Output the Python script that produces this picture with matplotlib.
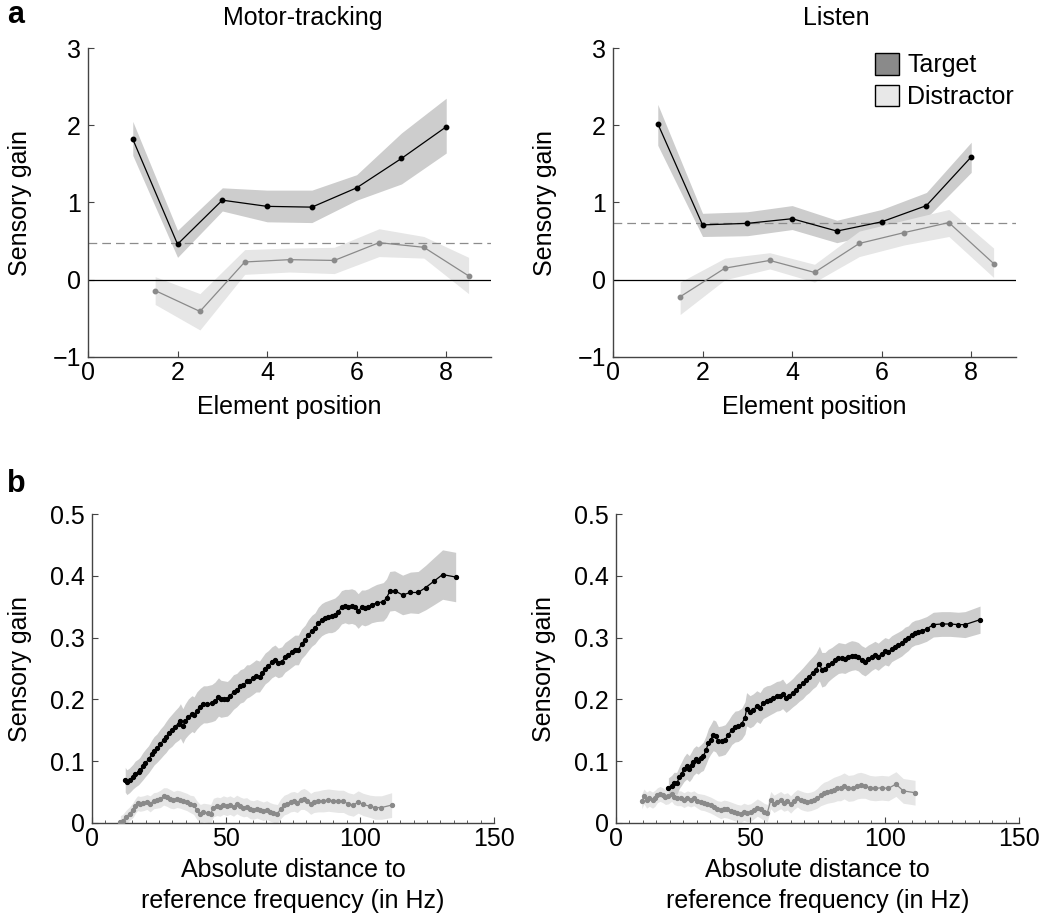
import numpy as np
import matplotlib.pyplot as plt
from matplotlib.patches import Patch
from matplotlib.ticker import MultipleLocator

plt.rcParams['font.family'] = ['Liberation Sans', 'DejaVu Sans']
plt.rcParams['axes.unicode_minus'] = True

# ---- panel a: gain per element position ----
elem_target_x = [1, 2, 3, 4, 5, 6, 7, 8]
elem_distr_x = [1.5, 2.5, 3.5, 4.5, 5.5, 6.5, 7.5, 8.5]

motor_target = [1.82, 0.46, 1.03, 0.95, 0.94, 1.19, 1.57, 1.98]
motor_target_lo = [1.61, 0.29, 0.89, 0.75, 0.74, 1.03, 1.24, 1.64]
motor_target_hi = [2.05, 0.64, 1.19, 1.16, 1.16, 1.36, 1.90, 2.35]
motor_distr = [-0.14, -0.41, 0.23, 0.26, 0.25, 0.48, 0.42, 0.05]
motor_distr_lo = [-0.32, -0.65, 0.07, 0.10, 0.08, 0.30, 0.28, -0.18]
motor_distr_hi = [0.04, -0.18, 0.39, 0.41, 0.42, 0.66, 0.56, 0.29]
motor_chance = 0.47

listen_target = [2.02, 0.71, 0.73, 0.79, 0.63, 0.75, 0.96, 1.59]
listen_target_lo = [1.74, 0.56, 0.57, 0.65, 0.48, 0.61, 0.80, 1.39]
listen_target_hi = [2.27, 0.86, 0.88, 0.96, 0.77, 0.91, 1.13, 1.78]
listen_distr = [-0.22, 0.15, 0.25, 0.095, 0.47, 0.61, 0.74, 0.21]
listen_distr_lo = [-0.45, 0.00, 0.14, -0.03, 0.30, 0.45, 0.56, 0.03]
listen_distr_hi = [-0.03, 0.28, 0.35, 0.20, 0.63, 0.77, 0.91, 0.41]
listen_chance = 0.74

# ---- panel b: gain vs distance to reference (x Hz, gain, sem) ----
motor_freq_target = [
    (12.4, 0.070, 0.020), (13.0, 0.066, 0.020), (14.0, 0.069, 0.020), (15.3, 0.075, 0.020),
    (16.1, 0.079, 0.021), (17.4, 0.083, 0.021), (18.0, 0.086, 0.021), (19.0, 0.092, 0.022),
    (19.9, 0.097, 0.022), (21.1, 0.103, 0.022), (22.4, 0.112, 0.023), (23.2, 0.117, 0.023),
    (24.2, 0.121, 0.023), (25.5, 0.128, 0.024), (26.7, 0.134, 0.024), (27.6, 0.139, 0.025),
    (28.6, 0.145, 0.025), (29.8, 0.150, 0.026), (31.0, 0.156, 0.026), (32.3, 0.161, 0.027),
    (33.0, 0.165, 0.028), (33.9, 0.157, 0.028), (34.8, 0.165, 0.028), (36.0, 0.172, 0.029),
    (37.3, 0.177, 0.029), (38.1, 0.175, 0.029), (39.1, 0.182, 0.030), (40.4, 0.188, 0.030),
    (41.6, 0.192, 0.030), (42.8, 0.192, 0.030), (44.7, 0.194, 0.030), (45.9, 0.197, 0.031),
    (47.2, 0.204, 0.031), (48.1, 0.201, 0.030), (49.3, 0.201, 0.029), (50.5, 0.201, 0.028),
    (51.5, 0.205, 0.028), (52.8, 0.212, 0.028), (54.0, 0.215, 0.027), (55.3, 0.221, 0.027),
    (56.5, 0.223, 0.027), (57.7, 0.229, 0.027), (58.7, 0.230, 0.026), (60.0, 0.234, 0.026),
    (61.2, 0.238, 0.026), (62.5, 0.237, 0.025), (63.3, 0.242, 0.025), (64.6, 0.250, 0.025),
    (65.8, 0.254, 0.025), (67.1, 0.260, 0.025), (68.3, 0.263, 0.025), (69.5, 0.259, 0.024),
    (70.8, 0.261, 0.024), (72.0, 0.268, 0.024), (73.3, 0.272, 0.024), (74.5, 0.276, 0.024),
    (75.7, 0.280, 0.024), (77.0, 0.280, 0.024), (78.2, 0.290, 0.024), (79.5, 0.296, 0.024),
    (80.7, 0.304, 0.025), (82.0, 0.311, 0.025), (83.2, 0.315, 0.025), (84.4, 0.323, 0.026),
    (85.7, 0.329, 0.026), (86.9, 0.332, 0.026), (88.2, 0.334, 0.026), (89.4, 0.335, 0.027),
    (90.6, 0.337, 0.027), (91.9, 0.342, 0.027), (93.1, 0.349, 0.027), (94.4, 0.351, 0.027),
    (95.6, 0.350, 0.028), (96.9, 0.351, 0.028), (98.1, 0.349, 0.028), (99.3, 0.343, 0.028),
    (100.6, 0.349, 0.028), (101.8, 0.348, 0.029), (103.1, 0.350, 0.029), (104.3, 0.353, 0.029),
    (106.2, 0.356, 0.030), (108.7, 0.358, 0.031), (109.9, 0.364, 0.031), (111.1, 0.375, 0.032),
    (112.9, 0.376, 0.032), (115.9, 0.369, 0.032), (118.8, 0.373, 0.033), (121.7, 0.373, 0.034),
    (124.5, 0.381, 0.036), (127.5, 0.391, 0.038), (130.8, 0.402, 0.040), (135.7, 0.398, 0.040),
]

motor_freq_distr = [
    (10.6, 0.002, 0.010), (11.5, 0.004, 0.010), (12.8, 0.010, 0.011), (14.0, 0.015, 0.011),
    (15.3, 0.021, 0.012), (16.1, 0.027, 0.012), (17.0, 0.032, 0.012), (18.0, 0.031, 0.012),
    (19.2, 0.032, 0.012), (20.5, 0.034, 0.012), (21.7, 0.031, 0.013), (23.0, 0.036, 0.013),
    (24.2, 0.037, 0.013), (25.5, 0.039, 0.014), (26.7, 0.043, 0.014), (27.9, 0.042, 0.015),
    (29.2, 0.039, 0.015), (30.4, 0.037, 0.014), (31.7, 0.039, 0.014), (32.9, 0.038, 0.014),
    (34.1, 0.036, 0.014), (35.4, 0.034, 0.014), (36.6, 0.031, 0.014), (37.9, 0.029, 0.015),
    (39.1, 0.021, 0.015), (40.4, 0.015, 0.015), (41.6, 0.017, 0.015), (43.1, 0.016, 0.015),
    (44.3, 0.015, 0.015), (45.3, 0.025, 0.015), (46.6, 0.027, 0.015), (47.8, 0.026, 0.015),
    (49.0, 0.029, 0.015), (50.3, 0.027, 0.015), (51.5, 0.029, 0.015), (52.8, 0.026, 0.015),
    (54.0, 0.030, 0.015), (55.3, 0.027, 0.015), (56.5, 0.025, 0.015), (57.7, 0.026, 0.015),
    (59.0, 0.022, 0.015), (60.2, 0.021, 0.015), (61.5, 0.023, 0.015), (62.7, 0.021, 0.015),
    (63.9, 0.019, 0.015), (65.2, 0.021, 0.015), (66.4, 0.018, 0.015), (67.7, 0.016, 0.015),
    (69.2, 0.015, 0.015), (70.4, 0.023, 0.016), (71.7, 0.029, 0.016), (72.9, 0.031, 0.016),
    (74.1, 0.034, 0.016), (75.4, 0.035, 0.016), (76.6, 0.033, 0.016), (77.9, 0.038, 0.016),
    (79.1, 0.039, 0.017), (80.3, 0.036, 0.017), (81.6, 0.031, 0.017), (82.8, 0.034, 0.017),
    (84.4, 0.035, 0.017), (86.3, 0.036, 0.018), (88.2, 0.037, 0.018), (90.0, 0.036, 0.018),
    (91.9, 0.035, 0.018), (93.8, 0.035, 0.018), (95.6, 0.031, 0.018), (97.5, 0.029, 0.018),
    (99.3, 0.034, 0.018), (101.2, 0.030, 0.018), (103.7, 0.027, 0.018), (105.6, 0.025, 0.019),
    (108.0, 0.025, 0.019), (111.8, 0.029, 0.020),
]

listen_freq_target = [
    (19.5, 0.057, 0.016), (20.7, 0.060, 0.017), (21.6, 0.065, 0.017), (22.6, 0.064, 0.018),
    (23.6, 0.074, 0.018), (24.4, 0.080, 0.019), (25.3, 0.087, 0.020), (26.3, 0.092, 0.021),
    (27.3, 0.088, 0.021), (28.2, 0.094, 0.022), (28.8, 0.099, 0.022), (29.8, 0.103, 0.022),
    (30.6, 0.101, 0.022), (31.6, 0.105, 0.022), (32.5, 0.108, 0.023), (33.5, 0.118, 0.023),
    (34.4, 0.129, 0.024), (35.2, 0.135, 0.024), (36.2, 0.142, 0.025), (37.1, 0.140, 0.025),
    (38.1, 0.132, 0.024), (39.3, 0.133, 0.024), (40.6, 0.135, 0.024), (41.8, 0.142, 0.024),
    (43.1, 0.151, 0.024), (44.3, 0.156, 0.025), (45.5, 0.157, 0.025), (46.8, 0.161, 0.025),
    (48.0, 0.170, 0.026), (48.6, 0.184, 0.027), (49.9, 0.180, 0.026), (51.1, 0.183, 0.026),
    (52.4, 0.189, 0.025), (53.6, 0.186, 0.025), (54.8, 0.194, 0.025), (56.1, 0.197, 0.025),
    (57.3, 0.199, 0.024), (58.6, 0.202, 0.024), (59.8, 0.205, 0.024), (61.0, 0.206, 0.024),
    (62.0, 0.209, 0.024), (63.3, 0.202, 0.023), (64.5, 0.206, 0.023), (65.8, 0.211, 0.023),
    (67.0, 0.216, 0.024), (68.2, 0.221, 0.024), (69.5, 0.226, 0.025), (70.7, 0.232, 0.025),
    (71.9, 0.237, 0.026), (73.2, 0.243, 0.026), (74.4, 0.248, 0.027), (75.7, 0.258, 0.028),
    (76.6, 0.248, 0.028), (77.8, 0.249, 0.027), (79.0, 0.255, 0.026), (80.3, 0.259, 0.025),
    (81.5, 0.263, 0.025), (82.8, 0.267, 0.025), (84.0, 0.267, 0.024), (85.2, 0.266, 0.024),
    (86.5, 0.269, 0.024), (87.7, 0.271, 0.024), (89.0, 0.271, 0.023), (90.2, 0.269, 0.023),
    (91.4, 0.264, 0.023), (92.7, 0.261, 0.023), (93.9, 0.265, 0.023), (95.2, 0.269, 0.022),
    (96.4, 0.272, 0.022), (97.6, 0.269, 0.022), (98.9, 0.274, 0.022), (100.1, 0.278, 0.022),
    (101.4, 0.276, 0.022), (102.6, 0.282, 0.021), (103.8, 0.285, 0.021), (105.1, 0.288, 0.021),
    (106.3, 0.291, 0.021), (107.6, 0.296, 0.021), (108.8, 0.299, 0.020), (110.0, 0.305, 0.020),
    (111.3, 0.308, 0.020), (112.5, 0.309, 0.020), (113.8, 0.311, 0.020), (115.6, 0.314, 0.020),
    (118.1, 0.321, 0.020), (121.2, 0.322, 0.020), (124.3, 0.322, 0.020), (127.4, 0.321, 0.020),
    (129.9, 0.321, 0.021), (135.5, 0.329, 0.022),
]

listen_freq_distr = [
    (9.6, 0.035, 0.012), (10.4, 0.043, 0.012), (11.4, 0.037, 0.013), (12.4, 0.040, 0.013),
    (13.6, 0.037, 0.013), (14.5, 0.040, 0.013), (15.4, 0.045, 0.012), (16.4, 0.047, 0.012),
    (17.4, 0.045, 0.012), (18.4, 0.042, 0.012), (19.5, 0.043, 0.012), (20.7, 0.047, 0.012),
    (21.6, 0.042, 0.012), (22.8, 0.040, 0.012), (24.1, 0.040, 0.012), (25.3, 0.037, 0.012),
    (26.6, 0.040, 0.012), (27.8, 0.038, 0.012), (29.0, 0.040, 0.012), (30.3, 0.036, 0.012),
    (31.5, 0.034, 0.013), (32.8, 0.033, 0.013), (34.0, 0.031, 0.013), (35.2, 0.029, 0.013),
    (36.5, 0.026, 0.013), (37.7, 0.023, 0.013), (39.0, 0.021, 0.014), (40.2, 0.023, 0.014),
    (41.4, 0.022, 0.014), (42.7, 0.020, 0.014), (43.9, 0.018, 0.014), (45.2, 0.016, 0.014),
    (46.4, 0.015, 0.014), (47.6, 0.018, 0.014), (48.9, 0.016, 0.014), (50.1, 0.017, 0.014),
    (51.4, 0.021, 0.014), (52.6, 0.025, 0.014), (53.8, 0.022, 0.014), (55.1, 0.018, 0.014),
    (56.3, 0.016, 0.014), (57.6, 0.037, 0.014), (58.8, 0.031, 0.014), (60.0, 0.034, 0.014),
    (61.3, 0.037, 0.014), (62.5, 0.033, 0.014), (63.8, 0.035, 0.014), (65.0, 0.030, 0.014),
    (66.3, 0.036, 0.014), (67.5, 0.040, 0.014), (68.7, 0.037, 0.015), (70.0, 0.035, 0.015),
    (71.2, 0.034, 0.015), (72.5, 0.035, 0.015), (73.7, 0.037, 0.015), (74.9, 0.040, 0.016),
    (76.2, 0.045, 0.017), (77.4, 0.048, 0.018), (78.7, 0.050, 0.018), (79.9, 0.052, 0.019),
    (81.1, 0.054, 0.020), (82.4, 0.056, 0.020), (83.6, 0.057, 0.021), (84.9, 0.060, 0.021),
    (86.5, 0.056, 0.021), (88.3, 0.057, 0.021), (89.8, 0.060, 0.021), (91.1, 0.061, 0.021),
    (92.7, 0.060, 0.020), (94.5, 0.057, 0.020), (96.4, 0.056, 0.020), (98.9, 0.057, 0.020),
    (101.4, 0.056, 0.020), (104.2, 0.063, 0.020), (106.9, 0.052, 0.020), (111.3, 0.049, 0.020),
]

TARGET_BAND = '#cdcdcd'
DISTR_BAND = '#e6e6e6'
DISTR_LINE = '#8a8a8a'
SPINE = '#444444'
FS = 18

W, H = 1043, 921
fig = plt.figure(figsize=(W / 100, H / 100), dpi=100)


def px_axes(left, top, right, bottom):
    return fig.add_axes([left / W, 1 - bottom / H, (right - left) / W, (bottom - top) / H])


def style(ax, ylabelpad):
    for s in ['top', 'right']:
        ax.spines[s].set_visible(False)
    for s in ['left', 'bottom']:
        ax.spines[s].set_color(SPINE)
        ax.spines[s].set_linewidth(1.0)
    ax.tick_params(direction='in', length=4, width=0.8, color=SPINE, labelsize=FS)
    ax.tick_params(axis='y', pad=5)
    ax.tick_params(axis='x', pad=3)
    ax.set_ylabel('Sensory gain', fontsize=FS, labelpad=ylabelpad)


def draw_elements(ax, t, tlo, thi, d, dlo, dhi, chance):
    ax.fill_between(elem_target_x, tlo, thi, color=TARGET_BAND, lw=0, zorder=1)
    ax.fill_between(elem_distr_x, dlo, dhi, color=DISTR_BAND, lw=0, zorder=1)
    ax.axhline(0, color='black', lw=0.9, zorder=2)
    ax.axhline(chance, color='#8c8c8c', lw=0.9, ls=(0, (7, 4)), zorder=2)
    ax.plot(elem_distr_x, d, color=DISTR_LINE, lw=0.9, marker='o', ms=3.2, zorder=3)
    ax.plot(elem_target_x, t, color='black', lw=0.9, marker='o', ms=3.2, zorder=4)
    ax.set_xlim(0, 9)
    ax.set_ylim(-1, 3)
    ax.set_xticks([0, 2, 4, 6, 8])
    ax.set_yticks([-1, 0, 1, 2, 3])
    ax.set_xlabel('Element position', fontsize=FS, labelpad=7)
    style(ax, 15)


def draw_freq(ax, target, distr):
    for rows, band, line, z in [(distr, DISTR_BAND, DISTR_LINE, 3), (target, TARGET_BAND, 'black', 4)]:
        arr = np.array(rows)
        x, y, e = arr[:, 0], arr[:, 1], arr[:, 2]
        ax.fill_between(x, y - e, y + e, color=band, lw=0, zorder=z - 2)
        ax.plot(x, y, color=line, lw=0.9, marker='o', ms=2.8, zorder=z)
    ax.set_xlim(0, 150)
    ax.set_ylim(0, 0.5)
    ax.set_xticks([0, 50, 100, 150])
    ax.set_yticks([0, 0.1, 0.2, 0.3, 0.4, 0.5])
    ax.set_yticklabels(['0', '0.1', '0.2', '0.3', '0.4', '0.5'])
    ax.xaxis.set_minor_locator(MultipleLocator(5))
    ax.tick_params(axis='x', which='minor', direction='in', length=2, color=SPINE)
    ax.set_xlabel('Absolute distance to\nreference frequency (in Hz)', fontsize=FS, labelpad=5,
                  linespacing=1.35)
    style(ax, 13)


ax1 = px_axes(88, 48, 491, 357)
draw_elements(ax1, motor_target, motor_target_lo, motor_target_hi,
              motor_distr, motor_distr_lo, motor_distr_hi, motor_chance)

ax2 = px_axes(613, 48, 1016, 357)
draw_elements(ax2, listen_target, listen_target_lo, listen_target_hi,
              listen_distr, listen_distr_lo, listen_distr_hi, listen_chance)

ax3 = px_axes(92, 514, 494, 823)
draw_freq(ax3, motor_freq_target, motor_freq_distr)

ax4 = px_axes(616, 514, 1019, 823)
draw_freq(ax4, listen_freq_target, listen_freq_distr)

handles = [Patch(facecolor='#8a8a8a', edgecolor='black', lw=1.0, label='Target'),
           Patch(facecolor='#e8e8e8', edgecolor='black', lw=1.0, label='Distractor')]
ax2.legend(handles=handles, loc='upper right', bbox_to_anchor=(1014 / W, 1 - 53 / H),
           bbox_transform=fig.transFigure, frameon=False, fontsize=FS,
           handlelength=0.95, handleheight=0.95, handletextpad=0.35, labelspacing=0.3,
           borderaxespad=0, borderpad=0)

fig.text(303 / W, 1 - 18 / H, 'Motor-tracking', ha='center', va='center', fontsize=FS)
fig.text(836 / W, 1 - 18 / H, 'Listen', ha='center', va='center', fontsize=FS)
fig.text(7 / W, 1 - 15 / H, 'a', ha='left', va='center', fontsize=22, fontweight='bold')
fig.text(7 / W, 1 - 484 / H, 'b', ha='left', va='center', fontsize=22, fontweight='bold')

fig.savefig('out.png', dpi=100)
